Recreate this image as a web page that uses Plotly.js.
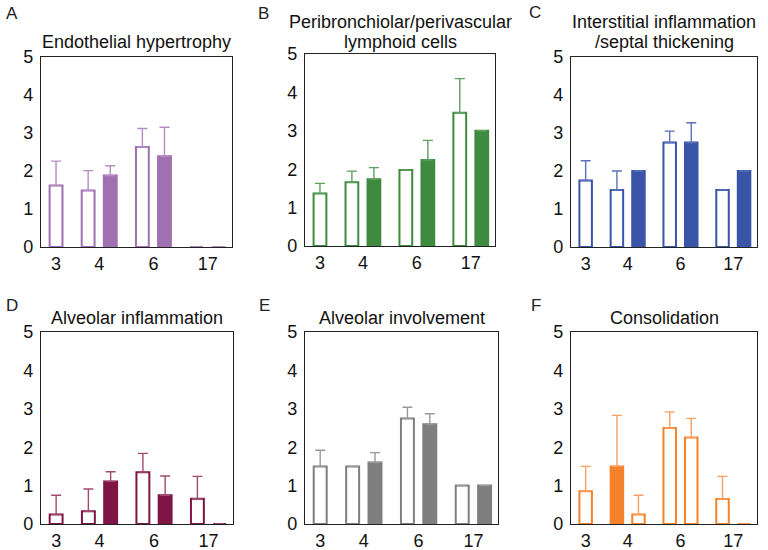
<!DOCTYPE html>
<html><head><meta charset="utf-8">
<script src="https://cdn.plot.ly/plotly-3.0.1.min.js"></script>
<style>html,body{margin:0;padding:0;background:#fff}#chart{width:768px;height:550px}</style>
</head><body><div id="chart"></div>
<script>
// ---- data ----
const weekLabels = ['3','4','6','17'];
const barWeek = ['3','4','4','6','6','17','17'];
const panelLetters = ['A','B','C','D','E','F'];
const panelTitles = ['Endothelial hypertrophy','Peribronchiolar/perivascular<br>lymphoid cells','Interstitial inflammation<br>/septal thickening','Alveolar inflammation','Alveolar involvement','Consolidation'];
const endothelialMean = [1.62,1.49,1.88,2.63,2.39,0,0];
const endothelialErr  = [0.64,0.52,0.26,0.49,0.76,null,null];
const lymphoidMean = [1.37,1.66,1.74,1.98,2.24,3.47,3.0];
const lymphoidErr  = [0.26,0.29,0.30,null,0.51,0.89,null];
const interstitialMean = [1.75,1.5,2.0,2.75,2.75,1.5,2.0];
const interstitialErr  = [0.52,0.5,null,0.3,0.52,null,null];
const alveolarInflMean = [0.25,0.33,1.11,1.35,0.75,0.66,0];
const alveolarInflErr  = [0.5,0.58,0.25,0.49,0.5,0.58,null];
const alveolarInvMean = [1.5,1.5,1.6,2.75,2.6,1.0,1.0];
const alveolarInvErr  = [0.42,null,0.26,0.29,0.27,null,null];
const consolidationMean = [0.85,1.5,0.25,2.5,2.25,0.65,0];
const consolidationErr  = [0.65,1.33,0.5,0.42,0.5,0.59,null];
const filledStandard = [false,false,true,false,true,false,true];
const filledConsolidation = [false,true,false,false,false,false,true];

// ---- layout / style ----
const W = 768, H = 550;
const slotPos = [0,1.45,2.45,3.9,4.9,6.35,7.35];
const xRange = [-0.68, 7.95];
const colors = ['#a070b0','#3e8a3e','#3a55a8','#7f1545','#7f7f7f','#f5822a'];
const errColors = ['#b58dc4','#5f9f5f','#5a72b8','#a04a70','#999999','#f7a060'];
const boxes = [[41,57,232,247],[305,54,495,246],[571,57,757,247],[41,332,233,524],[305,332,498,524],[571,332,757,524]];
const letterPos = [[12,13],[263,13],[535,12],[12,305],[264,305],[536,305]];
const titleY = [[42],[22,42],[22,42],[318],[318],[318]];
const FONT = 'Liberation Sans, Arial, sans-serif';

const means = [endothelialMean,lymphoidMean,interstitialMean,alveolarInflMean,alveolarInvMean,consolidationMean];
const errs = [endothelialErr,lymphoidErr,interstitialErr,alveolarInflErr,alveolarInvErr,consolidationErr];
const fills = [filledStandard,filledStandard,filledStandard,filledStandard,filledStandard,filledConsolidation];

const tickVals = weekLabels.map(w => {
  const p = slotPos.filter((_, i) => barWeek[i] === w);
  return p.reduce((a,b)=>a+b,0)/p.length;
});

const traces = [], layout = {
  width: W, height: H, margin:{l:0,r:0,t:0,b:0}, showlegend:false,
  paper_bgcolor:'#fff', plot_bgcolor:'#fff', bargap:0,
  font:{family:FONT, size:18, color:'#111'}, annotations:[]
};

for (let p = 0; p < 6; p++) {
  const sfx = p === 0 ? '' : String(p+1);
  const [x0,y0,x1,y1] = boxes[p];
  traces.push({
    type:'bar', x: slotPos, y: means[p], width: 0.58,
    xaxis:'x'+sfx, yaxis:'y'+sfx,
    marker:{color: fills[p].map(f => f ? colors[p] : '#ffffff'), line:{color:colors[p], width:2}},
    error_y:{type:'data', symmetric:false, array: errs[p], arrayminus: errs[p].map(v => v == null ? null : 0),
      color: errColors[p], thickness:1.4, width:5},
    hoverinfo:'none'
  });
  layout['xaxis'+sfx] = {
    domain:[x0/W, x1/W], range:xRange, anchor:'y'+sfx,
    tickvals:tickVals, ticktext:weekLabels, ticks:'', showgrid:false, zeroline:false,
    showline:true, mirror:true, linecolor:'#222', linewidth:1.2,
    tickfont:{size:18, color:'#111'}, ticklabelstandoff:0, fixedrange:true
  };
  layout['yaxis'+sfx] = {
    domain:[1-y1/H, 1-y0/H], range:[0,5], anchor:'x'+sfx,
    tickvals:[0,1,2,3,4,5], ticks:'', showgrid:false, zeroline:false,
    showline:true, mirror:true, linecolor:'#222', linewidth:1.2,
    tickfont:{size:18, color:'#111'}, ticklabelstandoff:3, fixedrange:true
  };
  layout.annotations.push({
    text: panelLetters[p], xref:'paper', yref:'paper', x: letterPos[p][0]/W, y: 1-letterPos[p][1]/H,
    xanchor:'center', yanchor:'middle', showarrow:false, font:{size:17, color:'#222'}
  });
  const lines = panelTitles[p].split('<br>');
  lines.forEach((ln, k) => {
    layout.annotations.push({
      text: ln, xref:'paper', yref:'paper', x: ((x0+x1)/2)/W, y: 1-titleY[p][k]/H,
      xanchor:'center', yanchor:'middle', showarrow:false, font:{size:18, color:'#111'}
    });
  });
}

Plotly.newPlot('chart', traces, layout, {staticPlot:true});
</script></body></html>
